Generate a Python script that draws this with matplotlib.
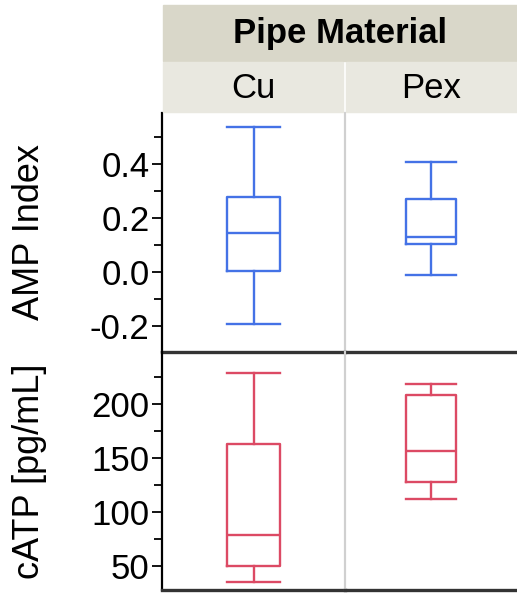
import matplotlib
matplotlib.use("Agg")
import matplotlib.pyplot as plt
from matplotlib.patches import Rectangle
from matplotlib.ticker import MultipleLocator

plt.rcParams['font.family'] = ['Liberation Sans', 'DejaVu Sans']

# data (whisker low, Q1, median, Q3, whisker high)
materials = ["Cu", "Pex"]
amp_low = [-0.194, -0.011]
amp_q1 = [0.004, 0.104]
amp_med = [0.146, 0.130]
amp_q3 = [0.279, 0.270]
amp_high = [0.539, 0.407]

catp_low = [35.3, 112]
catp_q1 = [49.7, 128]
catp_med = [78.5, 157]
catp_q3 = [163.5, 209]
catp_high = [228.7, 218.7]

blue = "#4472E6"
red = "#DC4A64"

W, H = 517, 596
fig = plt.figure(figsize=(W / 100, H / 100), dpi=100)
fig.patch.set_facecolor("white")


def fx(px):
    return px / W


def fy(py):
    return 1 - py / H


left, mid, right = 162, 345, 517
top_t, top_b, bot_b = 113, 352, 590

# header bands
fig.patches.append(Rectangle((fx(163), fy(61)), fx(right) - fx(163), fy(5) - fy(61),
                             transform=fig.transFigure, color="#D9D7C9", zorder=0))
fig.patches.append(Rectangle((fx(163), fy(112)), fx(mid - 2) - fx(163), fy(62) - fy(112),
                             transform=fig.transFigure, color="#E9E8E0", zorder=0))
fig.patches.append(Rectangle((fx(mid + 1), fy(112)), fx(right) - fx(mid + 1), fy(62) - fy(112),
                             transform=fig.transFigure, color="#E9E8E0", zorder=0))
fig.text(fx((163 + right) / 2), fy(34), "Pipe Material", ha="center", va="center",
         fontsize=25, fontweight="bold")
fig.text(fx((left + mid) / 2), fy(88), materials[0], ha="center", va="center", fontsize=25)
fig.text(fx((mid + right) / 2), fy(88), materials[1], ha="center", va="center", fontsize=25)

rows = [
    (top_t, top_b, amp_low, amp_q1, amp_med, amp_q3, amp_high, blue,
     (-0.296, 0.589), 0.2, 0.1, "AMP Index", "{:.1f}"),
    (top_b, bot_b, catp_low, catp_q1, catp_med, catp_q3, catp_high, red,
     (27.6, 248.6), 50, 25, "cATP [pg/mL]", "{:.0f}"),
]

for r, (yt, yb, lo, q1, med, q3, hi, col, ylim, maj, mnr, lab, fmt) in enumerate(rows):
    for c, (x0, x1) in enumerate([(left, mid), (mid, right)]):
        ax = fig.add_axes([fx(x0), fy(yb), fx(x1) - fx(x0), fy(yt) - fy(yb)])
        ax.patch.set_visible(False)
        stats = [dict(whislo=lo[c], q1=q1[c], med=med[c], q3=q3[c], whishi=hi[c], fliers=[])]
        ax.bxp(stats, positions=[0.5], widths=0.29, showfliers=False,
               boxprops=dict(color=col, lw=1.7),
               medianprops=dict(color=col, lw=1.7),
               whiskerprops=dict(color=col, lw=1.7),
               capprops=dict(color=col, lw=1.7), capwidths=0.29)
        ax.set_xlim(0, 1)
        ax.set_ylim(*ylim)
        ax.set_xticks([])
        for s in ax.spines.values():
            s.set_visible(False)
        ax.spines["bottom"].set_visible(True)
        ax.spines["bottom"].set_color("#333333")
        ax.spines["bottom"].set_linewidth(2.4)
        ax.spines["bottom"].set_zorder(5)
        if c == 0:
            ax.spines["left"].set_visible(True)
            ax.spines["left"].set_linewidth(1.6)
            ax.spines["right"].set_visible(True)
            ax.spines["right"].set_color("#D0D0D0")
            ax.spines["right"].set_linewidth(1.5)
            ax.yaxis.set_major_locator(MultipleLocator(maj))
            ax.yaxis.set_minor_locator(MultipleLocator(mnr))
            ax.tick_params(axis="y", which="major", length=7, width=1.3, labelsize=25, pad=2)
            ax.tick_params(axis="y", which="minor", length=6, width=1.3)
            ax.yaxis.set_major_formatter(plt.FuncFormatter(lambda v, p, f=fmt: f.format(v)))
            fig.text(fx(30), fy((yt + yb) / 2), lab, rotation=90, ha="center", va="center",
                     fontsize=26)
        else:
            ax.set_yticks([])
            ax.spines["left"].set_visible(True)
            ax.spines["left"].set_color("#D0D0D0")
            ax.spines["left"].set_linewidth(1.5)

fig.savefig("out.png", dpi=100)
